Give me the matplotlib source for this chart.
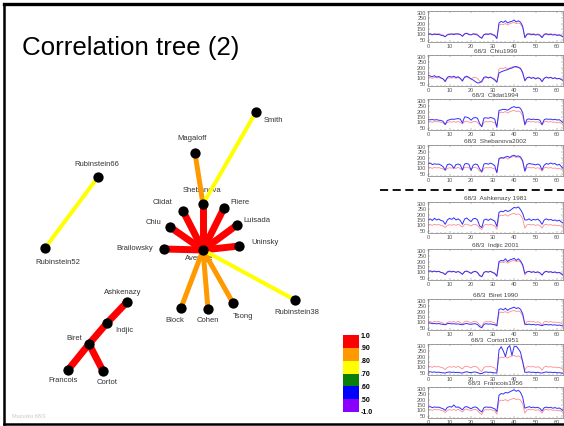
import numpy as np
import matplotlib.pyplot as plt
from matplotlib.colors import ListedColormap, BoundaryNorm
from matplotlib.lines import Line2D
from matplotlib.ticker import MultipleLocator

plt.rcParams["font.family"] = ["Liberation Sans", "DejaVu Sans"]

W, H = 564, 426

# ---------------------------------------------------------------- colour key
bounds = [-1.0, 0.5, 0.6, 0.7, 0.8, 0.9, 1.0]
bound_labels = ["-1.0", ".50", ".60", ".70", ".80", ".90", "1.0"]
class_colors = ["#8a00ff", "#0000ff", "#0a7d0a", "#ffff00", "#ff9900", "#ff0000"]

# ---------------------------------------------------------------- tree
# (performer a, performer b, correlation)
edges = [
    ("Average", "Shebanova", 0.95),
    ("Average", "Clidat", 0.94),
    ("Average", "Fliere", 0.93),
    ("Average", "Chiu", 0.93),
    ("Average", "Luisada", 0.92),
    ("Average", "Brailowsky", 0.94),
    ("Average", "Uninsky", 0.92),
    ("Shebanova", "Magaloff", 0.86),
    ("Shebanova", "Smith", 0.75),
    ("Average", "Block", 0.85),
    ("Average", "Cohen", 0.86),
    ("Average", "Tsong", 0.84),
    ("Average", "Rubinstein38", 0.76),
    ("Rubinstein66", "Rubinstein52", 0.74),
    ("Ashkenazy", "Indjic", 0.93),
    ("Indjic", "Biret", 0.92),
    ("Biret", "Francois", 0.93),
    ("Biret", "Cortot", 0.91),
]

# node layout on the slide canvas (x right, y down)
layout = {
    "Smith": (256, 112), "Magaloff": (195, 153), "Shebanova": (203, 204),
    "Clidat": (183, 211), "Fliere": (224, 208), "Chiu": (170, 227),
    "Luisada": (237, 225), "Brailowsky": (164, 249), "Average": (203, 250),
    "Uninsky": (239, 246), "Rubinstein66": (98, 177), "Rubinstein52": (45, 248),
    "Block": (181, 308), "Cohen": (208, 309), "Tsong": (233, 303),
    "Rubinstein38": (295, 300), "Ashkenazy": (127, 302), "Indjic": (107, 323),
    "Biret": (89, 344), "Francois": (68, 370), "Cortot": (103, 371),
}

label_pos = {
    "Smith": (273, 121), "Magaloff": (192, 139), "Shebanova": (202, 191),
    "Clidat": (163, 202), "Fliere": (240, 203), "Chiu": (153, 223),
    "Luisada": (257, 221), "Brailowsky": (135, 248), "Average": (199, 259),
    "Uninsky": (265, 243), "Rubinstein66": (97, 164), "Rubinstein52": (58, 263),
    "Block": (175, 320), "Cohen": (208, 321), "Tsong": (243, 317),
    "Rubinstein38": (297, 312), "Ashkenazy": (123, 292), "Indjic": (124, 330),
    "Biret": (74, 338), "Francois": (63, 381), "Cortot": (107, 382),
}

# ---------------------------------------------------------------- tempo curves
measures = np.arange(64)

average_tempo = [105, 108, 100, 110, 104, 108, 100, 95, 80, 100, 106, 102, 108, 100, 110, 98,
                 85, 108, 112, 104, 95, 108, 110, 100, 75, 62, 100, 108, 104, 110, 102, 95,
                 65, 185, 195, 190, 200, 185, 198, 205, 210, 200, 205, 195, 160, 75, 105, 110,
                 104, 108, 100, 106, 98, 75, 105, 110, 102, 108, 100, 104, 96, 100, 90, 80]

tempo_top = [100, 104, 96, 102, 98, 100, 92, 88, 78, 96, 100, 104, 98, 106, 102, 100,
             82, 104, 110, 98, 96, 104, 100, 94, 78, 66, 98, 102, 100, 106, 96, 90,
             62, 205, 220, 210, 225, 205, 215, 220, 232, 215, 225, 212, 175, 70, 100, 104,
             96, 100, 94, 98, 92, 70, 98, 104, 96, 100, 94, 98, 90, 94, 85, 75]
tempo_chiu = [130, 122, 115, 125, 112, 118, 105, 95, 70, 110, 118, 112, 120, 108, 115, 100,
              75, 112, 120, 110, 95, 85, 70, 58, 60, 75, 110, 115, 105, 112, 100, 85,
              65, 150, 160, 168, 175, 180, 190, 195, 205, 210, 200, 190, 150, 80, 105, 112,
              100, 108, 95, 105, 98, 70, 100, 112, 104, 110, 98, 106, 95, 100, 88, 80]
tempo_clidat = [125, 124, 126, 122, 125, 120, 118, 110, 80, 118, 124, 130, 128, 132, 135, 130,
                95, 150, 148, 140, 120, 140, 145, 138, 90, 60, 140, 142, 138, 145, 140, 130,
                55, 210, 215, 220, 218, 212, 225, 238, 245, 235, 240, 228, 190, 80, 128, 132,
                126, 130, 125, 128, 120, 80, 125, 132, 128, 130, 124, 128, 122, 125, 110, 95]
tempo_shebanova = [140, 150, 135, 142, 138, 140, 130, 115, 85, 135, 140, 130, 100, 135, 140, 132,
                   85, 140, 145, 138, 80, 130, 140, 135, 95, 70, 140, 145, 138, 148, 140, 125,
                   60, 190, 200, 195, 205, 210, 200, 215, 220, 210, 215, 205, 170, 75, 135, 145,
                   140, 138, 132, 140, 130, 85, 130, 145, 138, 150, 140, 145, 130, 138, 115, 95]
tempo_ashkenazy = [150, 160, 145, 165, 150, 158, 145, 140, 110, 150, 165, 155, 170, 150, 160, 145,
                   110, 158, 168, 150, 135, 160, 165, 150, 95, 80, 150, 158, 145, 160, 150, 140,
                   90, 220, 230, 225, 240, 228, 235, 250, 265, 260, 270, 245, 210, 150, 150, 160,
                   145, 155, 150, 158, 140, 110, 150, 160, 150, 155, 145, 150, 140, 148, 130, 120]
tempo_indjic = [110, 114, 108, 112, 106, 110, 100, 95, 80, 105, 112, 106, 110, 100, 108, 98,
                82, 106, 112, 102, 90, 104, 110, 98, 70, 60, 100, 108, 102, 110, 98, 90,
                65, 200, 210, 205, 225, 200, 215, 220, 230, 210, 225, 205, 170, 90, 105, 110,
                100, 106, 98, 104, 95, 75, 100, 110, 102, 106, 98, 104, 95, 100, 85, 70]
tempo_biret = [92, 95, 88, 90, 86, 90, 84, 82, 78, 88, 90, 86, 88, 84, 86, 82,
               78, 86, 90, 84, 82, 86, 88, 80, 60, 50, 82, 88, 84, 86, 82, 78,
               70, 220, 225, 215, 230, 210, 225, 232, 240, 228, 235, 220, 180, 85, 80, 84,
               78, 82, 76, 80, 75, 70, 78, 82, 76, 80, 75, 78, 72, 76, 70, 65]
tempo_cortot = [58, 60, 55, 58, 54, 56, 52, 50, 48, 55, 58, 54, 56, 52, 55, 50,
                48, 56, 60, 54, 52, 56, 58, 52, 45, 42, 55, 58, 54, 56, 52, 50,
                48, 260, 290, 250, 200, 280, 300, 210, 290, 295, 270, 240, 150, 55, 55, 58,
                54, 56, 52, 55, 50, 48, 54, 58, 54, 56, 52, 55, 50, 52, 48, 45]
tempo_francois = [130, 135, 125, 132, 128, 130, 122, 115, 100, 128, 135, 130, 150, 128, 132, 120,
                  105, 130, 135, 125, 115, 128, 132, 122, 100, 85, 125, 132, 128, 130, 122, 115,
                  90, 240, 255, 250, 265, 260, 270, 280, 290, 275, 285, 265, 220, 120, 128, 134,
                  126, 130, 124, 128, 118, 95, 125, 130, 124, 128, 120, 126, 118, 122, 110, 95]

panel_titles = [None, "68/3  Chiu1999", "68/3  Clidat1994", "68/3  Shebanova2002",
                "68/3  Ashkenazy 1981", "68/3  Indjic 2001", "68/3  Biret 1990",
                "68/3  Cortot1951", "68/3  Francois1956"]
panel_tempos = [tempo_top, tempo_chiu, tempo_clidat, tempo_shebanova, tempo_ashkenazy,
                tempo_indjic, tempo_biret, tempo_cortot, tempo_francois]


def canvas_box(left, top, width, height):
    """Slide pixel box -> figure fraction rect."""
    return [left / W, 1 - (top + height) / H, width / W, height / H]


fig = plt.figure(figsize=(W / 100, H / 100), dpi=100)
fig.patch.set_facecolor("white")

# ---- tree canvas
ax = fig.add_axes([0, 0, 1, 1])
ax.set_xlim(0, W)
ax.set_ylim(H, 0)
ax.axis("off")

cmap = ListedColormap(class_colors)
norm = BoundaryNorm(bounds, cmap.N)


def edge_width(r):
    if r >= 0.9:
        return 5.0
    if r >= 0.8:
        return 3.6
    return 2.9


for a, b, r in edges:
    (xa, ya), (xb, yb) = layout[a], layout[b]
    ax.plot([xa, xb], [ya, yb], color=cmap(norm(r)), lw=edge_width(r),
            solid_capstyle="butt", zorder=2)

names = list(layout)
ax.scatter([layout[n][0] for n in names], [layout[n][1] for n in names],
           s=55, color="black", zorder=3, linewidths=0)

for n in names:
    lx, ly = label_pos[n]
    ax.text(lx, ly, n, fontsize=5.5, color="#333333", ha="center", va="center", zorder=1)

ax.text(22, 48, "Correlation tree (2)", fontsize=18.6, color="black",
        ha="left", va="center")

ax.text(12, 417, "Mazurka 68/3", fontsize=4, color="#c8c8c8", ha="left", va="center")

# ---- colour key
cax = fig.add_axes(canvas_box(343, 335, 16, 77))
cb = fig.colorbar(plt.cm.ScalarMappable(norm=norm, cmap=cmap), cax=cax,
                  boundaries=bounds, ticks=bounds, spacing="uniform")
cb.outline.set_visible(False)
cb.ax.set_yticklabels(bound_labels, fontsize=5, fontweight="bold")
cb.ax.tick_params(length=0, pad=1)

# ---- tempo panels
panel_tops = [11, 55, 99, 145, 202, 249, 299, 344, 387]
for top, title, tempo in zip(panel_tops, panel_titles, panel_tempos):
    pax = fig.add_axes(canvas_box(428, top, 134.5, 31))
    pax.plot(measures, average_tempo, color="#ff8c8c", lw=0.6)
    pax.plot(measures, tempo, color="#3030ff", lw=0.7)
    pax.set_xlim(0, 62.5)
    pax.set_ylim(30, 315)
    pax.set_yticks([50, 100, 150, 200, 250, 300])
    pax.set_xticks(range(0, 61, 10))
    pax.xaxis.set_minor_locator(MultipleLocator(2))
    pax.yaxis.set_minor_locator(MultipleLocator(25))
    pax.tick_params(which="both", direction="in", top=True, right=True,
                    labelsize=4, pad=1.2, width=0.3, colors="#666666",
                    labelcolor="#555555")
    pax.tick_params(which="major", length=1.6)
    pax.tick_params(which="minor", length=1.0)
    for sp in pax.spines.values():
        sp.set_linewidth(0.5)
        sp.set_color("#777777")
    if title:
        pax.set_title(title, fontsize=4.6, color="#444444", pad=1.5)

# ---- slide frame and divider
fig.add_artist(Line2D([380 / W, 1], [1 - 190 / H] * 2, color="black", lw=1.3,
                      ls=(0, (4.5, 2.5))))
fig.add_artist(Line2D([3.5 / W, 1], [1 - 4 / H] * 2, color="black", lw=2.4, zorder=10))
fig.add_artist(Line2D([3.5 / W, 1], [1 - 423.5 / H] * 2, color="black", lw=1.8, zorder=10))
fig.add_artist(Line2D([3.5 / W] * 2, [1 - 4 / H, 1 - 423.5 / H], color="black", lw=1.8,
                      zorder=10))

fig.savefig("out.png", dpi=100)
